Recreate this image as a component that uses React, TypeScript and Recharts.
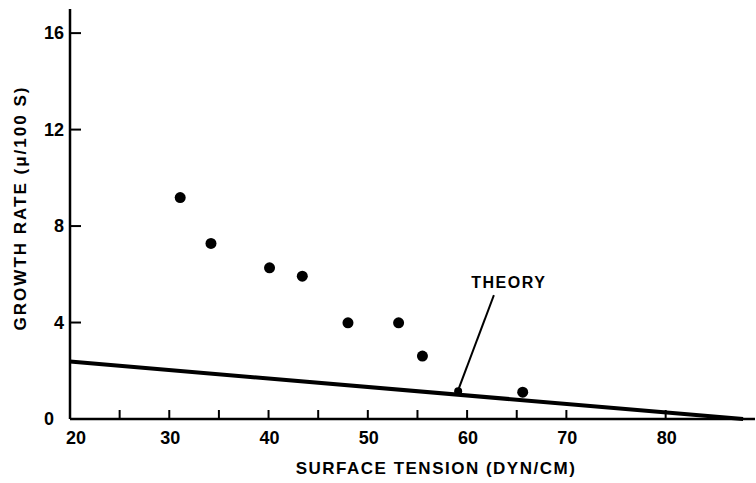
import React from 'react';
import {
  ComposedChart,
  Scatter,
  Line,
  XAxis,
  YAxis,
  ReferenceLine,
  ReferenceDot
} from 'recharts';

// measured growth rates vs surface tension
const tensionX = [31.1, 34.2, 40.1, 43.4, 48.0, 53.1, 55.5, 65.6];
const growthY = [9.18, 7.28, 6.27, 5.92, 3.99, 3.99, 2.61, 1.11];

// theory line end points
const theoryX = [20, 87.8];
const theoryY = [2.38, 0];

const xTicks = [20, 25, 30, 35, 40, 45, 50, 55, 60, 65, 70, 80];
const yTicks = [0, 4, 8, 12, 16];

const FONT = '"Liberation Sans", Arial, sans-serif';

const points = tensionX.map((x, i) => ({ x, y: growthY[i] }));
const theory = theoryX.map((x, i) => ({ x, y: theoryY[i] }));

const XTick = (props: any) => {
  const { x, y, payload } = props;
  const v = payload.value;
  return (
    <g>
      <line x1={x} y1={y} x2={x} y2={y - 9} stroke="#000" strokeWidth={2} />
      {v % 10 === 0 && (
        <text
          x={v === 20 ? x - 4 : x + 1}
          y={y + 25}
          textAnchor={v === 20 ? 'start' : 'middle'}
          fontFamily={FONT}
          fontWeight="bold"
          fontSize={18}
          fill="#000"
        >
          {v}
        </text>
      )}
    </g>
  );
};

const YTick = (props: any) => {
  const { x, y, payload } = props;
  return (
    <g>
      <line x1={x} y1={y} x2={x + 11} y2={y} stroke="#000" strokeWidth={2} />
      <text
        x={payload.value === 0 ? x - 16 : x - 6}
        y={y + 6}
        textAnchor="end"
        fontFamily={FONT}
        fontWeight="bold"
        fontSize={18}
        fill="#000"
      >
        {payload.value}
      </text>
    </g>
  );
};

const Dot = (props: any) => <circle cx={props.cx} cy={props.cy} r={5.5} fill="#000" />;

export default function App() {
  return (
    <div style={{ position: 'absolute', left: 0, top: 0, background: '#fff', fontFamily: FONT }}>
      <ComposedChart width={756} height={483} margin={{ top: 9, right: 1, left: 0, bottom: 0 }}>
        <XAxis
          type="number"
          dataKey="x"
          domain={[20, 89]}
          ticks={xTicks}
          interval={0}
          height={64}
          tickSize={0}
          tickMargin={0}
          tickLine={false}
          tick={<XTick />}
          axisLine={{ stroke: '#000', strokeWidth: 2.5 }}
          label={{
            content: () => (
              <text
                x={436}
                y={474}
                textAnchor="middle"
                fontFamily={FONT}
                fontWeight="bold"
                fontSize={17}
                letterSpacing={1.5}
                fill="#000"
              >
                SURFACE TENSION (DYN/CM)
              </text>
            )
          }}
        />
        <YAxis
          type="number"
          dataKey="y"
          domain={[0, 17]}
          ticks={yTicks}
          interval={0}
          width={70}
          tickSize={0}
          tickMargin={0}
          tickLine={false}
          tick={<YTick />}
          axisLine={{ stroke: '#000', strokeWidth: 2.5 }}
          label={{
            content: () => (
              <text
                x={0}
                y={0}
                transform="translate(26,208) rotate(-90)"
                textAnchor="middle"
                fontFamily={FONT}
                fontWeight="bold"
                fontSize={17}
                letterSpacing={2}
                fill="#000"
              >
                GROWTH RATE (μ/100 S)
              </text>
            )
          }}
        />
        <Line
          data={theory}
          dataKey="y"
          type="linear"
          stroke="#000"
          strokeWidth={4}
          dot={false}
          activeDot={false}
          isAnimationActive={false}
        />
        <ReferenceLine
          segment={[{ x: 62.7, y: 5.14 }, { x: 59.1, y: 1.2 }]}
          stroke="#000"
          strokeWidth={2}
        />
        <ReferenceDot x={59.1} y={1.15} r={4} fill="#000" stroke="none" />
        <ReferenceDot
          x={64.2}
          y={5.68}
          r={0}
          fill="none"
          stroke="none"
          label={{
            value: 'THEORY',
            position: 'center',
            fontFamily: FONT,
            fontWeight: 'bold',
            fontSize: 16,
            letterSpacing: 1.5,
            fill: '#000'
          }}
        />
        <Scatter data={points} dataKey="y" shape={<Dot />} isAnimationActive={false} />
      </ComposedChart>
    </div>
  );
}
